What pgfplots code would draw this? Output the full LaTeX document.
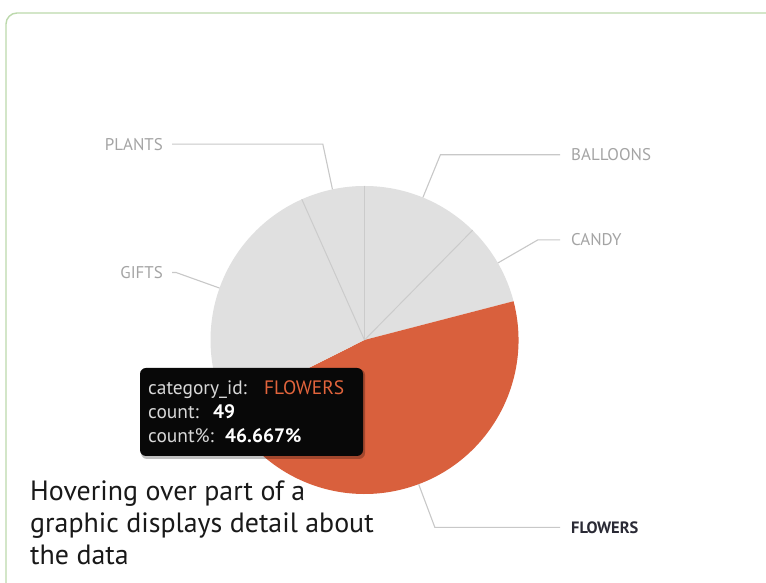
\documentclass[border=0pt]{standalone}
\usepackage{pgfplots}
\pgfplotsset{compat=1.18}
\usepackage{pgfplotstable}
\usepackage{fontspec}
\setmainfont{PT Sans}
\definecolor{piegray}{HTML}{E0E0E0}
\definecolor{pieorange}{HTML}{D9603D}
\definecolor{sepgray}{HTML}{CBCBCB}
\definecolor{leadgray}{HTML}{C8C8C8}
\definecolor{labgray}{HTML}{A4A4A4}
\definecolor{labdark}{HTML}{2A2A35}
\definecolor{framegreen}{HTML}{BCD9AC}
\definecolor{tipbg}{HTML}{080808}
\definecolor{tiptext}{HTML}{D8D8D8}
\definecolor{tiporange}{HTML}{E2643C}

\pgfplotstableread{
category count
BALLOONS 13
CANDY 9
FLOWERS 49
GIFTS 27
PLANTS 7
}\pietable
\pgfplotstablegetelem{0}{count}\of\pietable\edef\cBal{\pgfplotsretval}
\pgfplotstablegetelem{1}{count}\of\pietable\edef\cCan{\pgfplotsretval}
\pgfplotstablegetelem{2}{count}\of\pietable\edef\cFlo{\pgfplotsretval}
\pgfplotstablegetelem{3}{count}\of\pietable\edef\cGif{\pgfplotsretval}
\pgfplotstablegetelem{4}{count}\of\pietable\edef\cPla{\pgfplotsretval}
\pgfmathsetmacro\total{\cBal+\cCan+\cFlo+\cGif+\cPla}
\pgfmathsetmacro\aA{90}
\pgfmathsetmacro\aB{\aA-360*(\cBal/\total)}
\pgfmathsetmacro\aC{\aB-360*(\cCan/\total)}
\pgfmathsetmacro\aD{\aC-360*(\cFlo/\total)}
\pgfmathsetmacro\aE{\aD-360*(\cGif/\total)}
\pgfmathsetmacro\aF{\aE-360*(\cPla/\total)}
\pgfmathsetmacro\mBal{(\aA+\aB)/2}
\pgfmathsetmacro\mCan{(\aB+\aC)/2}
\pgfmathsetmacro\mFlo{(\aC+\aD)/2}
\pgfmathsetmacro\mGif{(\aD+\aE)/2}
\pgfmathsetmacro\mPla{(\aE+\aF)/2}
\def\R{154bp}

\begin{document}
\begin{tikzpicture}[x=1bp,y=1bp,
  leader/.style={leadgray, line width=1.1bp},
  lab/.style={inner sep=0pt, text=labgray, font=\fontsize{17}{20}\selectfont}]
\useasboundingbox (0,0) rectangle (766,583);
\begin{scope}
\clip (0,0) rectangle (766,583);
\fill[white] (0,0) rectangle (766,583);
\draw[framegreen, line width=1.4bp, rounded corners=11bp] (6,-30) -- (6,570) -- (820,570);
\begin{axis}[
  at={(364.5bp,243bp)}, anchor=center,
  width=308bp, height=308bp, scale only axis,
  xmin=-1, xmax=1, ymin=-1, ymax=1,
  enlargelimits=false, hide axis, clip=false,
]
% wedges
\fill[piegray] (0,0) -- ({cos(\aA)},{sin(\aA)}) arc[start angle=\aA, end angle=\aB, radius=\R] -- cycle;
\fill[piegray] (0,0) -- ({cos(\aB)},{sin(\aB)}) arc[start angle=\aB, end angle=\aC, radius=\R] -- cycle;
\fill[pieorange] (0,0) -- ({cos(\aC)},{sin(\aC)}) arc[start angle=\aC, end angle=\aD, radius=\R] -- cycle;
\fill[piegray] (0,0) -- ({cos(\aD)},{sin(\aD)}) arc[start angle=\aD, end angle=\aE, radius=\R] -- cycle;
\fill[piegray] (0,0) -- ({cos(\aE)},{sin(\aE)}) arc[start angle=\aE, end angle=\aF, radius=\R] -- cycle;
% separators between grey slices
\draw[sepgray, line width=1bp] (0,0) -- ({cos(\aA)},{sin(\aA)});
\draw[sepgray, line width=1bp] (0,0) -- ({cos(\aB)},{sin(\aB)});
\draw[sepgray, line width=1bp] (0,0) -- ({cos(\aE)},{sin(\aE)});
% leaders
\draw[leader] ({cos(\mBal)},{sin(\mBal)}) -- ({1.3*cos(\mBal)},{1.3*sin(\mBal)}) -- (1.2695,{1.3*sin(\mBal)});
\draw[leader] ({cos(\mCan)},{sin(\mCan)}) -- ({1.3*cos(\mCan)},{1.3*sin(\mCan)}) -- (1.2695,{1.3*sin(\mCan)});
\draw[leader] ({cos(\mFlo)},{sin(\mFlo)}) -- ({1.3*cos(\mFlo)},{1.3*sin(\mFlo)}) -- (1.2695,{1.3*sin(\mFlo)});
\draw[leader] ({cos(\mGif)},{sin(\mGif)}) -- ({1.3*cos(\mGif)},{1.3*sin(\mGif)}) -- (-1.25,{1.3*sin(\mGif)});
\draw[leader] ({cos(\mPla)},{sin(\mPla)}) -- ({1.3*cos(\mPla)},{1.3*sin(\mPla)}) -- (-1.25,{1.3*sin(\mPla)});
% labels
\node[lab, anchor=west] at (1.341,{1.3*sin(\mBal)}) {BALLOONS};
\node[lab, anchor=west] at (1.341,{1.3*sin(\mCan)}) {CANDY};
\node[lab, anchor=west, text=labdark, font=\fontsize{16.5}{20}\selectfont\bfseries] at (1.341,{1.3*sin(\mFlo)}) {FLOWERS};
\node[lab, anchor=east] at (-1.308,{1.3*sin(\mGif)}) {GIFTS};
\node[lab, anchor=east] at (-1.308,{1.3*sin(\mPla)}) {PLANTS};
\end{axis}
% tooltip
\fill[black, opacity=0.25, rounded corners=6bp] (141,124) rectangle (365,214);
\fill[tipbg, rounded corners=6bp] (140,127) rectangle (363,215);
\begin{scope}[every node/.style={inner sep=0pt, anchor=base west, font=\fontsize{19.5}{20}\selectfont}]
\node[text=tiptext] at (148,188) {category\_id:};
\node[text=tiporange] at (264,188) {FLOWERS};
\node[text=tiptext] at (148,164) {count:};
\node[text=white, font=\fontsize{19.5}{20}\selectfont\bfseries] at (213,164) {49};
\node[text=tiptext] at (148,140) {count\%:};
\node[text=white, font=\fontsize{19.5}{20}\selectfont\bfseries] at (225,140) {46.667\%};
\end{scope}
% caption
\begin{scope}[every node/.style={inner sep=0pt, anchor=base west, text=black!90, font=\fontsize{28}{32}\selectfont}]
\node at (30,82) {Hovering over part of a};
\node at (30,50) {graphic displays detail about};
\node at (30,18) {the data};
\end{scope}
\end{scope}
\end{tikzpicture}
\end{document}
